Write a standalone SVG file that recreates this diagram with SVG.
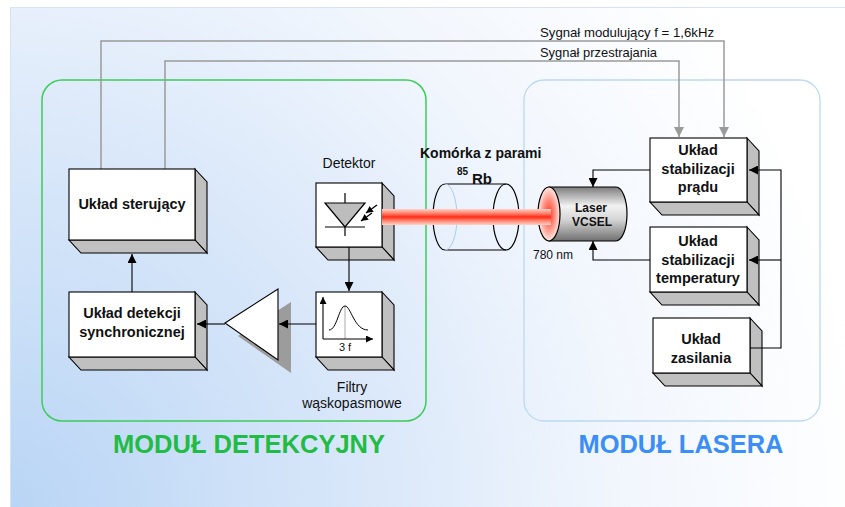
<svg xmlns="http://www.w3.org/2000/svg" width="845" height="507" viewBox="0 0 845 507">
  <defs>
    <radialGradient id="bg" gradientUnits="userSpaceOnUse" cx="10" cy="507" r="860">
      <stop offset="0" stop-color="#b9d5f5"/>
      <stop offset="0.45" stop-color="#dce9fa"/>
      <stop offset="0.7" stop-color="#f1f6fd"/>
      <stop offset="1" stop-color="#ffffff"/>
    </radialGradient>
    <linearGradient id="beam" x1="0" y1="0" x2="0" y2="1">
      <stop offset="0" stop-color="#ffd2c8"/>
      <stop offset="0.3" stop-color="#ff7a66"/>
      <stop offset="0.5" stop-color="#ff2a14"/>
      <stop offset="0.7" stop-color="#ff7a66"/>
      <stop offset="1" stop-color="#ffd2c8"/>
    </linearGradient>
    <linearGradient id="metal" x1="0" y1="0" x2="0" y2="1">
      <stop offset="0" stop-color="#7c7c7c"/>
      <stop offset="0.35" stop-color="#f2f2f2"/>
      <stop offset="0.6" stop-color="#d6d6d6"/>
      <stop offset="1" stop-color="#707070"/>
    </linearGradient>
    <radialGradient id="face" cx="0.5" cy="0.5" r="0.5">
      <stop offset="0" stop-color="#ff3a28"/>
      <stop offset="0.5" stop-color="#ff8a7a"/>
      <stop offset="1" stop-color="#ffe8e4"/>
    </radialGradient>
    <marker id="ah" viewBox="0 0 10 10" refX="10" refY="5" markerWidth="9" markerHeight="9" markerUnits="userSpaceOnUse" orient="auto">
      <path d="M0,0 L10,5 L0,10 Z" fill="#000"/>
    </marker>
    <marker id="ahg" viewBox="0 0 10 10" refX="10" refY="5" markerWidth="10" markerHeight="10" markerUnits="userSpaceOnUse" orient="auto">
      <path d="M0,0 L10,5 L0,10 Z" fill="#9a9a9a"/>
    </marker>
    <marker id="ahs" viewBox="0 0 10 10" refX="10" refY="5" markerWidth="7" markerHeight="7" markerUnits="userSpaceOnUse" orient="auto">
      <path d="M0,0 L10,5 L0,10 Z" fill="#000"/>
    </marker>
  </defs>
  <style>
    .front { fill: #ffffff; stroke: #000; stroke-width: 1.1; }
    .shade { fill: #c0c0c0; stroke: #000; stroke-width: 1.1; }
    .lbl { font-family: "Liberation Sans", Arial, sans-serif; font-size: 14.5px; font-weight: bold; fill: #111; text-anchor: middle; }
    .txt { font-family: "Liberation Sans", Arial, sans-serif; font-size: 14px; fill: #111; text-anchor: middle; }
    .sig { font-family: "Liberation Sans", Arial, sans-serif; font-size: 13px; fill: #111; }
    .wire { fill: none; stroke: #000; stroke-width: 1.1; }
    .gwire { fill: none; stroke: #9a9a9a; stroke-width: 1.5; }
    .title { font-family: "Liberation Sans", Arial, sans-serif; font-size: 25px; font-weight: bold; text-anchor: middle; }
  </style>

  <!-- backdrop -->
  <rect x="0" y="0" width="845" height="507" fill="#ffffff"/>
  <rect x="10.5" y="7.5" width="840" height="505" fill="url(#bg)" stroke="#d2e4f6" stroke-width="1"/>

  <!-- module frames -->
  <rect id="modul-detekcyjny" x="42" y="80" width="384" height="341" rx="20" fill="none" stroke="#3ccc5a" stroke-width="1.5"/>
  <rect id="modul-lasera" x="524" y="80" width="296" height="341" rx="20" fill="none" stroke="#bcd8f4" stroke-width="1.3"/>

  <!-- signal lines from the control unit -->
  <g id="connectors-signal">
    <path class="gwire" d="M101,169 V41 H724 V137" marker-end="url(#ahg)"/>
    <path class="gwire" d="M165,169 V61 H679 V137" marker-end="url(#ahg)"/>
    <text class="sig" x="540" y="37" textLength="174" lengthAdjust="spacingAndGlyphs">Sygnał modulujący  f = 1,6kHz</text>
    <text class="sig" x="540" y="57" textLength="117" lengthAdjust="spacingAndGlyphs">Sygnał przestrajania</text>
  </g>

  <!-- Układ sterujący -->
  <g id="uklad-sterujacy">
    <path class="shade" d="M195,169 L207,182 L207,253 L195,240 Z"/>
    <path class="shade" d="M69,240 L195,240 L207,253 L81,253 Z"/>
    <rect class="front" x="69" y="169" width="126" height="71"/>
    <text class="lbl" x="132" y="209">Układ sterujący</text>
  </g>

  <!-- Układ detekcji synchronicznej -->
  <g id="uklad-detekcji">
    <path class="shade" d="M195,292 L207,305 L207,370 L195,357 Z"/>
    <path class="shade" d="M69,357 L195,357 L207,370 L81,370 Z"/>
    <rect class="front" x="69" y="292" width="126" height="65"/>
    <text class="lbl" x="132" y="318">Układ detekcji</text>
    <text class="lbl" x="132" y="337">synchronicznej</text>
  </g>

  <!-- Wzmacniacz -->
  <g id="wzmacniacz">
    <path d="M238,336 L291,302 L291,373 Z" fill="#9c9c9c"/>
    <path d="M225,323 L278,289 L278,360 Z" fill="#ffffff" stroke="#000" stroke-width="1.1"/>
  </g>

  <!-- Detektor -->
  <g id="detektor">
    <text class="txt" x="349" y="168">Detektor</text>
    <path class="shade" d="M382,183 L394,196 L394,260 L382,247 Z"/>
    <path class="shade" d="M316,247 L382,247 L394,260 L328,260 Z"/>
    <rect class="front" x="316" y="183" width="66" height="64"/>
    <path d="M325,203 L365,203 L345,227 Z" fill="#bdbdbd" stroke="#000" stroke-width="1.2"/>
    <path d="M345,193 V203 M325,227 H365 M345,227 V236" fill="none" stroke="#000" stroke-width="1.2"/>
    <path d="M377,205 L366,213" fill="none" stroke="#000" stroke-width="1.2" marker-end="url(#ahs)"/>
    <path d="M372,213 L361,221" fill="none" stroke="#000" stroke-width="1.2" marker-end="url(#ahs)"/>
  </g>

  <!-- Filtry wąskopasmowe -->
  <g id="filtry">
    <path class="shade" d="M382,292 L394,305 L394,370 L382,357 Z"/>
    <path class="shade" d="M316,357 L382,357 L394,370 L328,370 Z"/>
    <rect class="front" x="316" y="292" width="66" height="65"/>
    <path d="M345,306 V339" fill="none" stroke="#aaaaaa" stroke-width="1"/>
    <path d="M323,339 V297" class="wire" marker-end="url(#ahs)"/>
    <path d="M323,339 H373" class="wire" marker-end="url(#ahs)"/>
    <path d="M329,330 C337,330 339,306 345,306 C351,306 354,330 368,330" fill="none" stroke="#000" stroke-width="1"/>
    <text x="345" y="351" font-family="'Liberation Sans', Arial, sans-serif" font-size="11" text-anchor="middle" fill="#111">3 f</text>
    <text class="txt" x="352" y="392">Filtry</text>
    <text class="txt" x="352" y="408">wąskopasmowe</text>
  </g>

  <!-- Komórka z parami Rb -->
  <g id="komorka">
    <text x="420" y="158" font-family="'Liberation Sans', Arial, sans-serif" font-size="14" font-weight="bold" fill="#111">Komórka z parami</text>
    <text x="457" y="175" font-family="'Liberation Sans', Arial, sans-serif" font-size="10" font-weight="bold" fill="#111">85</text>
    <text x="472" y="184" font-family="'Liberation Sans', Arial, sans-serif" font-size="15" font-weight="bold" fill="#111">Rb</text>
    <path d="M445,184 H506 M445,250 H506" fill="none" stroke="#000" stroke-width="1.2"/>
    <path d="M445,184 A12,33 0 0 0 445,250" fill="none" stroke="#000" stroke-width="1.2"/>
    <path d="M445,184 A12,33 0 0 1 445,250" fill="none" stroke="#a8cdf0" stroke-width="1"/>
    <ellipse cx="506" cy="217" rx="13" ry="33" fill="none" stroke="#000" stroke-width="1.2"/>
  </g>

  <!-- Laser VCSEL -->
  <g id="laser">
    <path d="M549,187 H616 A11,27 0 0 1 616,241 H549 Z" fill="url(#metal)" stroke="#000" stroke-width="1.2"/>
    <ellipse cx="549" cy="214" rx="11" ry="27" fill="url(#face)" stroke="#000" stroke-width="1.2"/>
    <text x="591" y="212" font-family="'Liberation Sans', Arial, sans-serif" font-size="12" font-weight="bold" text-anchor="middle" fill="#111">Laser</text>
    <text x="592" y="226" font-family="'Liberation Sans', Arial, sans-serif" font-size="12" font-weight="bold" text-anchor="middle" fill="#111">VCSEL</text>
    <text x="533" y="259" font-family="'Liberation Sans', Arial, sans-serif" font-size="12" fill="#111">780 nm</text>
  </g>

  <!-- wiązka -->
  <rect id="wiazka" x="382" y="209" width="169" height="16" fill="url(#beam)"/>

  <!-- Układ stabilizacji prądu -->
  <g id="stab-pradu">
    <path class="shade" d="M747,138 L759,151 L759,215 L747,202 Z"/>
    <path class="shade" d="M650,202 L747,202 L759,215 L662,215 Z"/>
    <rect class="front" x="650" y="138" width="97" height="64"/>
    <text class="lbl" x="698" y="155">Układ</text>
    <text class="lbl" x="698" y="174">stabilizacji</text>
    <text class="lbl" x="698" y="192">prądu</text>
  </g>

  <!-- Układ stabilizacji temperatury -->
  <g id="stab-temperatury">
    <path class="shade" d="M747,227 L759,240 L759,305 L747,292 Z"/>
    <path class="shade" d="M650,292 L747,292 L759,305 L662,305 Z"/>
    <rect class="front" x="650" y="227" width="97" height="65"/>
    <text class="lbl" x="698" y="246">Układ</text>
    <text class="lbl" x="698" y="265">stabilizacji</text>
    <text class="lbl" x="698" y="283">temperatury</text>
  </g>

  <!-- Układ zasilania -->
  <g id="zasilanie">
    <path class="shade" d="M750,318 L762,331 L762,386 L750,373 Z"/>
    <path class="shade" d="M653,373 L750,373 L762,386 L665,386 Z"/>
    <rect class="front" x="653" y="318" width="97" height="55"/>
    <text class="lbl" x="701" y="344">Układ</text>
    <text class="lbl" x="701" y="363">zasilania</text>
  </g>

  <!-- połączenia -->
  <g id="connectors">
    <path class="wire" d="M132,292 V254" marker-end="url(#ah)"/>
    <path class="wire" d="M225,324 H197" marker-end="url(#ah)"/>
    <path class="wire" d="M316,324 H279" marker-end="url(#ah)"/>
    <path class="wire" d="M349,247 V291" marker-end="url(#ah)"/>
    <path class="wire" d="M650,170 H593 V187" marker-end="url(#ah)"/>
    <path class="wire" d="M650,260 H593 V241" marker-end="url(#ah)"/>
    <path class="wire" d="M750,348 H781 V170 H749" marker-end="url(#ah)"/>
    <path class="wire" d="M781,260 H749" marker-end="url(#ah)"/>
  </g>

  <!-- podpisy modułów -->
  <text class="title" x="249" y="453" fill="#22bb44" textLength="272" lengthAdjust="spacingAndGlyphs">MODUŁ DETEKCYJNY</text>
  <text class="title" x="681" y="453" fill="#3a8ef5" textLength="205" lengthAdjust="spacingAndGlyphs">MODUŁ LASERA</text>
</svg>
